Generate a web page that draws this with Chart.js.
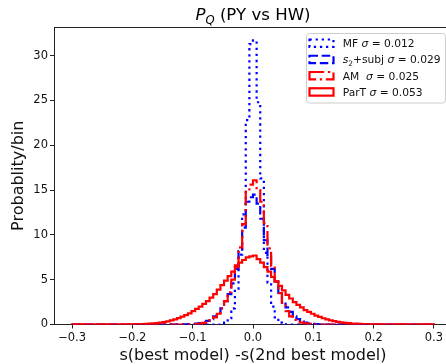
<!DOCTYPE html>
<html>
<head>
<meta charset="utf-8">
<script src="https://cdn.jsdelivr.net/npm/chart.js@4.4.0/dist/chart.umd.min.js"></script>
<style>
  html, body { margin: 0; padding: 0; background: #fff; overflow: hidden; }
  #wrap { width: 470px; height: 364px; }
</style>
</head>
<body>
<div id="wrap"><canvas id="chart" width="470" height="364"></canvas></div>
<script>
// histogram bins: 100 bins of width 0.006 between -0.3 and 0.3
const binStart = -0.3;
const binWidth = 0.006;
const xTicks = [-0.3, -0.2, -0.1, 0, 0.1, 0.2, 0.3];
const yTicks = [0, 5, 10, 15, 20, 25, 30];

// probability per bin (bin 0 = [-0.300, -0.294))
const mfValues = [
  0, 0, 0, 0, 0, 0, 0, 0, 0, 0,
  0, 0, 0, 0, 0, 0, 0, 0, 0, 0,
  0, 0, 0, 0, 0, 0, 0, 0, 0, 0,
  0, 0, 0, 0, 0, 0, 0, 0, 0, 0,
  0, 0.05, 0.2, 0.7, 1.8, 4.0, 7.8, 12.3, 22.8, 31.3,
  31.7, 24.8, 16.3, 8.0, 4.7, 2.0, 0.8, 0.2, 0.05, 0,
  0, 0, 0, 0, 0, 0, 0, 0, 0, 0,
  0, 0, 0, 0, 0, 0, 0, 0, 0, 0,
  0, 0, 0, 0, 0, 0, 0, 0, 0, 0,
  0, 0, 0, 0, 0, 0, 0, 0, 0, 0
];
const s2Values = [
  0, 0, 0, 0, 0, 0, 0, 0, 0, 0,
  0, 0, 0, 0, 0, 0, 0, 0, 0, 0,
  0, 0, 0, 0, 0, 0, 0, 0, 0, 0,
  0.02, 0.03, 0.04, 0.05, 0.1, 0.15, 0.25, 0.4, 0.6, 0.9,
  1.3, 1.8, 2.6, 3.4, 4.6, 6.2, 8.2, 10.8, 13.7, 14.2,
  14.5, 13.5, 11.8, 9.4, 7.6, 6.2, 4.8, 3.4, 2.5, 1.9,
  1.4, 0.9, 0.6, 0.35, 0.2, 0.12, 0.07, 0.04, 0.02, 0,
  0, 0, 0, 0, 0, 0, 0, 0, 0, 0,
  0, 0, 0, 0, 0, 0, 0, 0, 0, 0,
  0, 0, 0, 0, 0, 0, 0, 0, 0, 0
];
const amValues = [
  0, 0, 0, 0, 0, 0, 0, 0, 0, 0,
  0, 0, 0, 0, 0, 0, 0, 0, 0, 0,
  0, 0, 0, 0, 0, 0, 0, 0, 0, 0,
  0, 0, 0.02, 0.03, 0.05, 0.1, 0.18, 0.3, 0.5, 0.8,
  1.2, 1.8, 2.6, 3.6, 5.0, 6.6, 8.6, 11.2, 14.8, 15.6,
  16.1, 15.0, 13.7, 11.3, 8.5, 6.5, 4.8, 3.5, 2.4, 1.5,
  0.9, 0.5, 0.3, 0.2, 0.12, 0.07, 0.04, 0.02, 0, 0,
  0, 0, 0, 0, 0, 0, 0, 0, 0, 0,
  0, 0, 0, 0, 0, 0, 0, 0, 0, 0,
  0, 0, 0, 0, 0, 0, 0, 0, 0, 0
];
const partValues = [
  0.01, 0.01, 0.01, 0.01, 0.01, 0.01, 0.01, 0.01, 0.01, 0.01,
  0.015, 0.015, 0.015, 0.015, 0.015, 0.015, 0.02, 0.03, 0.04, 0.05,
  0.07, 0.09, 0.12, 0.16, 0.21, 0.27, 0.35, 0.45, 0.57, 0.71,
  0.87, 1.05, 1.25, 1.5, 1.75, 2.0, 2.3, 2.6, 3.0, 3.4,
  3.9, 4.4, 4.9, 5.4, 5.9, 6.4, 6.9, 7.2, 7.5, 7.6,
  7.7, 7.3, 6.9, 6.4, 5.9, 5.3, 4.8, 4.3, 3.8, 3.3,
  2.9, 2.5, 2.2, 1.9, 1.6, 1.4, 1.2, 1.0, 0.85, 0.7,
  0.58, 0.47, 0.38, 0.3, 0.24, 0.19, 0.15, 0.11, 0.09, 0.07,
  0.05, 0.04, 0.03, 0.03, 0.02, 0.015, 0.015, 0.015, 0.015, 0.015,
  0.01, 0.01, 0.01, 0.01, 0.01, 0.01, 0.01, 0.01, 0.01, 0.01
];

const family = "'DejaVu Sans', sans-serif";

// legend texts, pieces so sigma / subscripts can be styled
const series = [
  {name: 'MF', values: mfValues, color: '#0000ff', dash: [2.3, 3.8],
   label: [{t: 'MF '}, {t: 'σ', it: true}, {t: ' = 0.012'}]},
  {name: 's2+subj', values: s2Values, color: '#0000ff', dash: [8.5, 3.7],
   label: [{t: 's', it: true}, {t: '2', sub: true}, {t: '+subj '}, {t: 'σ', it: true}, {t: ' = 0.029'}]},
  {name: 'AM', values: amValues, color: '#ff0000', dash: [14.7, 3.7, 2.3, 3.7],
   label: [{t: 'AM  '}, {t: 'σ', it: true}, {t: ' = 0.025'}]},
  {name: 'ParT', values: partValues, color: '#ff0000', dash: [],
   label: [{t: 'ParT '}, {t: 'σ', it: true}, {t: ' = 0.053'}]}
];

// turn bin values into step outline points (left edge of each bin)
function stepPoints(values) {
  const end = binStart + values.length * binWidth;
  const pts = [{x: binStart, y: 0}];
  values.forEach((v, k) => pts.push({x: binStart + k * binWidth, y: v}));
  pts.push({x: end, y: values[values.length - 1]});
  pts.push({x: end, y: 0});
  return pts;
}

function fmtTick(v) {
  return v.toFixed(1).replace('-', '\u2212');
}

function drawRich(ctx, parts, x, y, size, measureOnly) {
  let cx = x;
  parts.forEach(p => {
    const s = p.sub ? size * 0.7 : size;
    ctx.font = (p.it ? 'italic ' : '') + s + 'px ' + family;
    if (!measureOnly) ctx.fillText(p.t, cx, y + (p.sub ? size * 0.22 : 0));
    cx += ctx.measureText(p.t).width;
  });
  return cx - x;
}

// top spine, title and the legend box
const decorations = {
  id: 'decorations',
  afterDraw(chart) {
    const ctx = chart.ctx;
    const area = chart.chartArea;
    ctx.save();
    ctx.strokeStyle = '#222';
    ctx.lineWidth = 1;
    ctx.beginPath();
    ctx.moveTo(area.left, Math.round(area.top) + 0.5);
    ctx.lineTo(area.right, Math.round(area.top) + 0.5);
    ctx.stroke();

    // title
    const titleParts = [{t: 'P', it: true}, {t: 'Q', it: true, sub: true}, {t: ' (PY vs HW)'}];
    ctx.fillStyle = '#000';
    ctx.textBaseline = 'alphabetic';
    ctx.textAlign = 'left';
    const tw = drawRich(ctx, titleParts, 0, 0, 16.6, true);
    drawRich(ctx, titleParts, (area.left + area.right) / 2 - tw / 2, 20, 16.6);

    // legend
    const bx = 306.5, by = 33.5, bw = 139, bh = 69.5, r = 3;
    ctx.beginPath();
    ctx.moveTo(bx + r, by);
    ctx.lineTo(bx + bw - r, by);
    ctx.arcTo(bx + bw, by, bx + bw, by + r, r);
    ctx.lineTo(bx + bw, by + bh - r);
    ctx.arcTo(bx + bw, by + bh, bx + bw - r, by + bh, r);
    ctx.lineTo(bx + r, by + bh);
    ctx.arcTo(bx, by + bh, bx, by + bh - r, r);
    ctx.lineTo(bx, by + r);
    ctx.arcTo(bx, by, bx + r, by, r);
    ctx.closePath();
    ctx.fillStyle = 'rgba(255,255,255,0.8)';
    ctx.fill();
    ctx.strokeStyle = '#cccccc';
    ctx.lineWidth = 1;
    ctx.stroke();

    series.forEach((s, i) => {
      const cy = 43.2 + i * 16.25;
      ctx.strokeStyle = s.color;
      ctx.lineWidth = 2.2;
      ctx.setLineDash(s.dash);
      ctx.strokeRect(309.5, cy - 3.7, 24, 7.4);
      ctx.setLineDash([]);
      ctx.fillStyle = '#111';
      drawRich(ctx, s.label, 342.7, cy + 3.9, 10.7);
    });
    ctx.restore();
  }
};

const ctx = document.getElementById('chart').getContext('2d');
new Chart(ctx, {
  type: 'line',
  data: {
    datasets: series.map((s, i) => ({
      label: s.name,
      data: stepPoints(s.values),
      borderColor: s.color,
      borderWidth: 2.2,
      borderDash: s.dash,
      stepped: 'before',
      pointRadius: 0,
      fill: false,
      order: series.length - i
    }))
  },
  options: {
    responsive: false,
    animation: false,
    devicePixelRatio: 1,
    layout: {padding: {left: 0, right: 18, top: 27, bottom: 0}},
    plugins: {legend: {display: false}, tooltip: {enabled: false}},
    scales: {
      x: {
        type: 'linear',
        min: -0.33,
        max: 0.33,
        afterBuildTicks: s => { s.ticks = xTicks.map(v => ({value: v})); },
        afterFit: s => { s.height = 39.5; },
        grid: {display: true, drawOnChartArea: false, drawTicks: true, tickLength: 4, color: '#222'},
        border: {display: true, color: '#222', width: 1},
        ticks: {color: '#111', font: {family: family, size: 11.5}, padding: 3, maxRotation: 0,
                callback: v => fmtTick(v)},
        title: {display: true, text: 's(best model) -s(2nd best model)', color: '#111',
                font: {family: family, size: 16}, padding: {top: 0, bottom: -1}}
      },
      y: {
        type: 'linear',
        min: 0,
        max: 33.2,
        afterBuildTicks: s => { s.ticks = yTicks.map(v => ({value: v})); },
        afterFit: s => { s.width = 54; },
        grid: {display: true, drawOnChartArea: false, drawTicks: true, tickLength: 4, color: '#222'},
        border: {display: true, color: '#222', width: 1},
        ticks: {color: '#111', font: {family: family, size: 11.5}, padding: 2,
                callback: v => String(v)},
        title: {display: true, text: 'Probablity/bin', color: '#111',
                font: {family: family, size: 16}, padding: {top: 9, bottom: 0}}
      }
    }
  },
  plugins: [decorations]
});
</script>
</body>
</html>
